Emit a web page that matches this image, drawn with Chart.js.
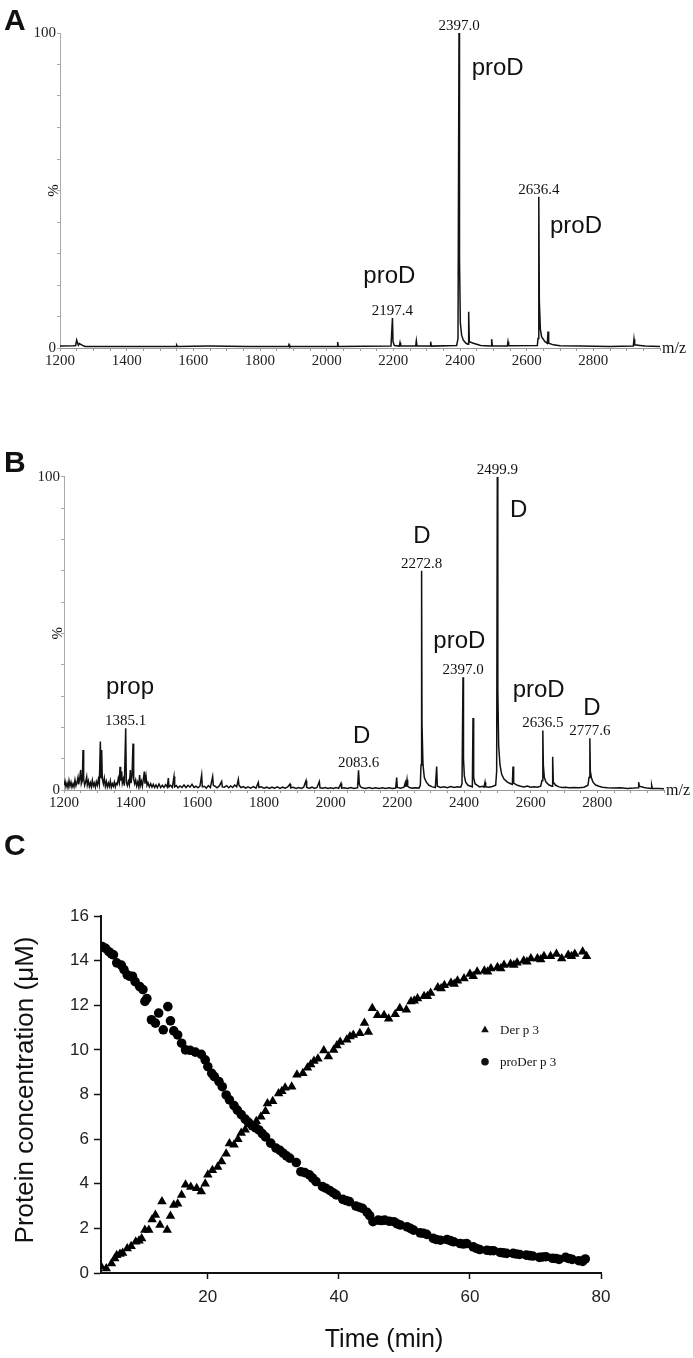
<!DOCTYPE html>
<html>
<head>
<meta charset="utf-8">
<script src="https://cdn.jsdelivr.net/npm/chart.js@4/dist/chart.umd.min.js"></script>
<style>
  body { margin: 0; background: #fff; }
  #fig { position: relative; width: 693px; height: 1358px; background: #fff; overflow: hidden; }
  canvas { position: absolute; left: 0; }
</style>
</head>
<body>
<div id="fig">
  <canvas id="chartA" width="693" height="390" style="top:0"></canvas>
  <canvas id="chartB" width="693" height="390" style="top:440px"></canvas>
  <canvas id="chartC" width="693" height="528" style="top:830px"></canvas>
</div>
<script>
// Panel A — spectrum before activation (m/z, relative intensity %)
const mzA = [1200, 1240, 1247, 1250, 1255, 1258, 1270, 1275, 1400, 1549, 1550, 1552, 1650, 1760, 1885, 1887, 1889,
  2031, 2033, 2035, 2193, 2197.4, 2199, 2203, 2218, 2220, 2222, 2267, 2269, 2271, 2310, 2312, 2314,
  2390, 2394, 2397.0, 2398.5, 2401, 2405, 2410, 2418, 2424, 2426, 2428, 2440, 2450, 2462,
  2493, 2495, 2497, 2542, 2544, 2546, 2632, 2634, 2636.4, 2638, 2641, 2645, 2655, 2662, 2664, 2666,
  2680, 2700, 2760, 2850, 2920, 2922, 2924, 2940, 2955, 3000];
const intensityA = [0.6, 0.7, 0.8, 2.5, 0.9, 1.4, 0.7, 0.5, 0.5, 0.5, 0.9, 0.5, 0.6, 0.5, 0.5, 1.1, 0.5,
  0.5, 1.9, 0.5, 0.6, 9.5, 2.0, 0.8, 0.6, 1.7, 0.6, 0.6, 2.3, 0.6, 0.6, 2.0, 0.6,
  0.8, 3.0, 100, 28, 8, 4, 2.5, 1.5, 1.2, 11.5, 2.0, 1.5, 1.2, 0.8,
  0.6, 2.8, 0.7, 0.6, 2.0, 0.7, 0.8, 3.0, 48, 15, 6, 3.5, 2.0, 1.5, 5.2, 1.5,
  1.0, 0.7, 0.6, 0.5, 0.6, 2.8, 1.0, 0.8, 0.6, 0.5];
const peaksA = [2197.4, 2397.0, 2636.4];
const peakTopsA = [9.5, 100, 48];
const namesA = ['proD', 'proD', 'proD'];
const nameMzA = [2110, 2435, 2670];
const nameIntA = [20.5, 86.7, 36.4];

// Panel B — spectrum after activation
const mzB = [1200, 1203, 1206, 1209, 1212, 1215, 1218, 1221, 1224, 1227, 1230, 1233, 1236, 1239, 1242, 1244, 1247, 1250, 1252, 1255, 1257, 1259,
  1262, 1265, 1268, 1270, 1273, 1276, 1279, 1282, 1285, 1288, 1291, 1294, 1297, 1300, 1303, 1306, 1309, 1311, 1313, 1315, 1318,
  1321, 1324, 1327, 1330, 1333, 1336, 1339, 1342, 1345, 1348, 1351, 1354, 1357, 1360, 1363, 1366, 1368, 1370, 1373, 1375, 1378,
  1381, 1385.1, 1387, 1390, 1393, 1396, 1399, 1401, 1404, 1407, 1409, 1412, 1415, 1418, 1421, 1424, 1427, 1429, 1432, 1435, 1438,
  1441, 1443, 1446, 1449, 1452, 1456, 1460, 1464, 1468, 1472, 1476, 1480, 1485, 1490, 1495, 1500, 1505, 1510, 1513, 1515, 1520,
  1525, 1530, 1532, 1537, 1542, 1548, 1554, 1560, 1566, 1572, 1578, 1584, 1590, 1596, 1602, 1608, 1613, 1615, 1621, 1627, 1633,
  1639, 1646, 1648, 1653, 1659, 1666, 1673, 1675, 1681, 1688, 1694, 1700, 1706, 1712, 1718, 1723, 1725, 1731, 1738, 1745, 1752,
  1760, 1768, 1776, 1783, 1785, 1792, 1800, 1808, 1816, 1824, 1832, 1840, 1848, 1856, 1864, 1871, 1878, 1880, 1888, 1896, 1904,
  1912, 1919, 1926, 1928, 1936, 1944, 1952, 1959, 1966, 1968, 1976, 1984, 1992, 2000, 2008, 2016, 2024, 2031, 2033, 2041, 2050,
  2060, 2070, 2079, 2081, 2083.6, 2086, 2090, 2095, 2105, 2115, 2125, 2135, 2145, 2155, 2165, 2175, 2185, 2195, 2198, 2200, 2210,
  2220, 2224, 2226, 2229, 2231, 2236, 2245, 2255, 2265, 2269, 2271, 2272.8, 2274, 2277, 2281, 2287, 2295, 2305, 2314, 2318, 2320,
  2330, 2340, 2350, 2360, 2370, 2380, 2390, 2394, 2397.0, 2398.5, 2401, 2405, 2412, 2420, 2425, 2427, 2429, 2433, 2440, 2447, 2455,
  2460, 2463, 2465, 2475, 2485, 2495, 2498, 2499.9, 2501.5, 2504, 2508, 2513, 2520, 2530, 2540, 2545, 2547, 2549, 2560, 2570, 2580,
  2590, 2600, 2610, 2620, 2630, 2634, 2636.5, 2638, 2641, 2646, 2655, 2664, 2666, 2668, 2675, 2685, 2695, 2705, 2715, 2730, 2745,
  2760, 2772, 2775, 2777.6, 2779, 2782, 2787, 2795, 2805, 2815, 2830, 2850, 2870, 2890, 2910, 2922, 2924, 2926, 2940, 2950, 2961,
  2963, 2965, 2985, 3000];
const intensityB = [1.5, 2.8, 1.0, 2.2, 0.8, 3.0, 1.2, 2.5, 0.9, 2.0, 1.0, 3.2, 1.4, 2.4, 4.0, 1.8, 3.5, 6.4, 2.0, 3.0, 12.8, 3.5,
  1.5, 2.6, 4.2, 1.6, 2.9, 1.1, 2.3, 1.0, 3.1, 1.3, 2.2, 0.9, 2.6, 1.5, 3.4, 1.8, 15.5, 4.0, 12.8, 3.5, 2.0,
  3.8, 1.2, 2.7, 1.0, 2.2, 1.1, 2.9, 0.9, 2.0, 1.2, 2.5, 1.0, 2.2, 1.8, 3.8, 2.4, 7.4, 3.0, 6.0, 2.2, 3.5,
  1.4, 19.7, 2.5, 1.4, 2.8, 1.6, 6.4, 2.2, 4.5, 14.8, 3.5, 2.0, 3.2, 1.3, 2.5, 1.1, 4.8, 1.5, 2.8, 1.2, 3.5,
  5.9, 2.0, 4.5, 1.5, 2.3, 1.0, 2.0, 0.9, 1.8, 0.8, 1.6, 0.7, 1.9, 0.8, 1.5, 0.8, 1.7, 0.9, 3.8, 1.0, 1.5,
  0.8, 4.3, 1.0, 1.4, 0.7, 1.3, 0.8, 1.6, 0.8, 1.5, 0.9, 1.8, 0.8, 1.2, 0.7, 1.3, 4.8, 1.0, 1.2, 0.6, 1.4,
  0.8, 4.3, 1.5, 1.2, 0.7, 1.3, 2.7, 1.0, 0.9, 1.4, 0.7, 1.3, 0.8, 1.6, 1.0, 3.4, 1.5, 0.8, 1.1, 0.6, 1.0,
  0.6, 1.1, 0.6, 2.4, 0.8, 1.0, 0.6, 0.9, 0.5, 0.9, 0.6, 1.0, 0.5, 0.9, 0.6, 1.0, 1.9, 0.7, 0.9, 0.5, 0.8,
  0.5, 0.9, 3.0, 0.8, 0.6, 0.9, 0.5, 0.8, 2.7, 0.7, 0.6, 0.8, 0.5, 0.7, 0.5, 0.8, 0.5, 2.1, 0.6, 0.7, 0.5,
  0.8, 0.5, 0.7, 1.5, 6.3, 1.8, 1.0, 0.7, 0.5, 0.8, 0.5, 0.7, 0.5, 0.7, 0.5, 0.7, 0.5, 0.6, 4.0, 0.8, 0.6,
  0.9, 2.4, 1.0, 3.3, 1.2, 0.8, 0.6, 0.7, 0.6, 1.5, 8.0, 70, 21, 8.0, 4.0, 2.5, 1.5, 1.0, 0.8, 7.5, 1.2,
  0.8, 1.0, 0.7, 1.1, 0.8, 1.0, 0.9, 2.0, 36, 10, 4.5, 2.5, 1.5, 1.2, 1.0, 23, 4.0, 2.0, 1.5, 1.0, 1.2,
  0.9, 2.5, 1.0, 0.9, 1.1, 1.5, 6.0, 100, 32, 14, 8.0, 5.0, 3.5, 2.5, 2.0, 1.8, 7.5, 2.2, 1.5, 1.2, 1.0,
  1.3, 0.9, 1.0, 0.9, 1.2, 3.0, 19, 8.0, 4.0, 2.5, 1.6, 1.2, 10.6, 2.5, 1.5, 1.0, 0.8, 0.9, 0.7, 0.8, 0.7,
  0.9, 1.5, 4.0, 16.5, 6.0, 4.0, 2.5, 1.6, 1.2, 0.9, 0.7, 0.6, 0.7, 0.5, 0.6, 0.7, 2.5, 1.2, 0.8, 0.6, 0.5,
  1.5, 0.5, 0.5, 0.4];
const peaksB = [1385.1, 2083.6, 2272.8, 2397.0, 2499.9, 2636.5, 2777.6];
const peakTopsB = [19.7, 6.3, 70, 36, 100, 19, 16.5];
const namesB = ['prop', 'D', 'D', 'proD', 'D', 'proD', 'D'];
const nameMzB = [1326, 2067, 2248, 2308, 2538, 2546, 2758];
const nameIntB = [30.6, 14.9, 78.7, 45.2, 87.2, 29.8, 23.9];

// Panel C — time course (min, µM)
const timeDer = [3.7, 4.5, 5.3, 5.8, 6.1, 6.6, 7.0, 7.7, 8.3, 9.0, 9.5, 9.9, 10.4, 11.0, 11.5, 12.0, 12.7, 13.0, 13.8, 14.3,
  14.8, 15.4, 16.0, 16.6, 17.4, 18.3, 19.0, 19.6, 20.0, 20.7, 21.5, 22.1, 22.8, 23.3, 24.0, 24.6, 25.1, 25.7, 26.4, 27.4,
  28.1, 28.8, 29.1, 29.9, 30.8, 31.3, 31.8, 32.8, 33.6, 34.5, 35.2, 35.7, 36.2, 36.8, 37.7, 38.4, 39.2, 39.7, 40.2, 41.2,
  41.7, 42.2, 43.2, 43.9, 44.5, 45.1, 45.9, 46.9, 47.6, 48.6, 49.3, 50.3, 51.0, 51.5, 52.0, 53.0, 53.5, 54.0, 55.1, 55.6,
  56.1, 57.1, 57.6, 58.1, 59.1, 60.0, 60.5, 61.1, 62.2, 62.7, 63.2, 64.2, 64.7, 65.2, 66.2, 66.7, 67.2, 68.2, 68.7, 69.3,
  70.3, 70.8, 71.3, 72.3, 73.2, 74.0, 75.0, 75.5, 76.0, 77.2, 77.8];
const derP3 = [0.3, 0.2, 0.43, 0.65, 0.8, 0.85, 0.9, 1.1, 1.2, 1.4, 1.45, 1.55, 1.93, 1.93, 2.4, 2.6, 2.15, 3.2, 1.93, 2.55,
  3.05, 3.1, 3.5, 3.95, 3.85, 3.8, 3.65, 4.0, 4.4, 4.6, 4.75, 5.0, 5.35, 5.8, 5.75, 6.0, 6.27, 6.42, 6.65, 6.8,
  7.0, 7.25, 7.6, 7.7, 8.05, 8.15, 8.3, 8.35, 8.88, 8.95, 9.2, 9.35, 9.5, 9.6, 9.97, 9.7, 10.0, 10.2, 10.35, 10.45,
  10.6, 10.67, 10.75, 11.2, 10.8, 11.87, 11.55, 11.55, 11.4, 11.6, 11.87, 11.8, 12.17, 12.2, 12.3, 12.4, 12.4, 12.55, 12.8, 12.75,
  12.9, 13.0, 12.95, 13.1, 13.2, 13.4, 13.3, 13.5, 13.55, 13.5, 13.65, 13.7, 13.65, 13.8, 13.85, 13.8, 13.9, 14.0, 13.95, 14.1,
  14.1, 14.05, 14.2, 14.2, 14.3, 14.1, 14.25, 14.2, 14.3, 14.4, 14.2];
const timePro = [3.9, 4.4, 4.9, 5.3, 5.6, 6.1, 6.8, 7.2, 7.7, 8.1, 8.5, 8.9, 9.6, 10.1, 10.4, 10.7, 11.4, 12.0, 12.5, 13.2,
  13.9, 14.3, 14.8, 15.4, 16.0, 16.6, 17.3, 18.1, 19.0, 19.6, 20.0, 20.6, 21.0, 21.7, 22.2, 22.8, 23.3, 24.0, 24.5, 25.1,
  25.7, 26.2, 26.8, 27.3, 27.8, 28.3, 28.8, 29.6, 30.4, 31.0, 31.5, 32.0, 32.5, 33.5, 34.2, 34.8, 35.5, 36.0, 36.5, 37.5,
  38.0, 38.6, 39.1, 39.6, 40.6, 41.1, 41.6, 42.6, 43.1, 43.6, 44.3, 44.7, 45.2, 46.0, 46.5, 47.0, 47.7, 48.4, 48.9, 49.4,
  50.4, 50.9, 51.4, 52.4, 52.9, 53.4, 54.4, 54.9, 55.5, 56.5, 57.0, 57.5, 58.5, 59.0, 59.5, 60.5, 61.0, 61.5, 62.6, 63.1,
  63.6, 64.6, 65.1, 65.6, 66.6, 67.1, 67.6, 68.6, 69.1, 69.6, 70.6, 71.1, 71.6, 72.6, 73.1, 73.6, 74.6, 75.1, 75.6, 76.6,
  77.2, 77.6];
const proDerP3 = [14.63, 14.55, 14.4, 14.3, 14.26, 13.9, 13.8, 13.6, 13.36, 13.3, 13.3, 13.06, 12.84, 12.7, 12.17, 12.3, 11.35, 11.2, 11.65, 10.9,
  11.94, 11.3, 10.85, 10.67, 10.3, 10.0, 9.98, 9.9, 9.8, 9.55, 9.25, 8.95, 8.8, 8.58, 8.35, 7.98, 7.76, 7.5, 7.3, 7.1,
  6.9, 6.75, 6.6, 6.5, 6.41, 6.25, 6.1, 5.82, 5.6, 5.5, 5.37, 5.25, 5.15, 4.95, 4.54, 4.5, 4.4, 4.25, 4.1, 3.87,
  3.8, 3.7, 3.6, 3.5, 3.3, 3.25, 3.2, 3.0, 2.95, 2.9, 2.72, 2.57, 2.3, 2.37, 2.35, 2.37, 2.32, 2.3, 2.2, 2.15,
  2.07, 2.0, 1.92, 1.8, 1.78, 1.73, 1.55, 1.5, 1.47, 1.5, 1.45, 1.4, 1.32, 1.3, 1.32, 1.17, 1.1, 1.05, 1.02, 1.0,
  1.0, 0.92, 0.9, 0.88, 0.88, 0.85, 0.83, 0.8, 0.78, 0.76, 0.7, 0.72, 0.73, 0.66, 0.65, 0.61, 0.7, 0.65, 0.61, 0.55,
  0.52, 0.63];
const seriesNames = ['Der p 3', 'proDer p 3'];

const SERIF = '"Liberation Serif", "Times New Roman", serif';
const SANS = '"Liberation Sans", Arial, sans-serif';

// peak numbers, species names, axis captions and panel letter for the spectra
const spectrumText = {
  id: 'spectrumText',
  afterDraw(chart, args, o) {
    const { ctx, chartArea: a, scales: { x, y } } = chart;
    ctx.save();
    ctx.fillStyle = '#111';
    ctx.textBaseline = 'alphabetic';
    ctx.textAlign = 'center';
    ctx.font = '15px ' + SERIF;
    o.peaks.forEach((m, i) => ctx.fillText(m.toFixed(1), x.getPixelForValue(m), y.getPixelForValue(o.tops[i]) - 3));
    ctx.textAlign = 'left';
    ctx.font = '24px ' + SANS;
    o.names.forEach((n, i) => ctx.fillText(n, x.getPixelForValue(o.nameX[i]), y.getPixelForValue(o.nameY[i])));
    ctx.font = '16px ' + SERIF;
    ctx.fillText('m/z', a.right + 2, a.bottom + 5);
    ctx.font = 'bold 30px ' + SANS;
    ctx.fillText(o.panel, 4, o.panelY);
    ctx.translate(a.left - 2, (a.top + a.bottom) / 2);
    ctx.rotate(-Math.PI / 2);
    ctx.textAlign = 'center';
    ctx.font = '15px ' + SERIF;
    ctx.fillText('%', 0, 0);
    ctx.restore();
  }
};

function spectrumChart(id, mz, inten, ann, box) {
  return new Chart(document.getElementById(id), {
    type: 'line',
    data: {
      datasets: [{
        data: mz.map((m, i) => ({ x: m, y: inten[i] })),
        borderColor: '#111', borderWidth: 1.5, pointRadius: 0, tension: 0, fill: false
      }]
    },
    options: {
      responsive: false, animation: false, devicePixelRatio: 1,
      layout: { padding: { top: box.top, right: box.right, left: 0, bottom: 0 } },
      plugins: { legend: { display: false }, tooltip: { enabled: false }, spectrumText: ann },
      scales: {
        x: {
          type: 'linear', min: 1200, max: 3000,
          afterFit: s => { s.height = box.xh; },
          ticks: {
            stepSize: 50, autoSkip: false, maxRotation: 0, padding: 1, color: '#222',
            font: { family: SERIF, size: 15 },
            callback: v => (v % 200 === 0 && v <= 2800) ? v : ''
          },
          grid: { drawOnChartArea: false, tickLength: 3, color: '#999' },
          border: { color: '#999' }
        },
        y: {
          min: 0, max: 100,
          afterFit: s => { s.width = box.left; },
          ticks: {
            stepSize: 10, autoSkip: false, padding: 1, color: '#222',
            font: { family: SERIF, size: 15 },
            callback: v => (v === 0 || v === 100) ? v : ''
          },
          grid: { drawOnChartArea: false, tickLength: 3, color: '#aaa' },
          border: { color: '#aaa' }
        }
      }
    },
    plugins: [spectrumText]
  });
}

spectrumChart('chartA', mzA, intensityA,
  { peaks: peaksA, tops: peakTopsA, names: namesA, nameX: nameMzA, nameY: nameIntA, panel: 'A', panelY: 30 },
  { top: 33, right: 33, left: 60, xh: 42 });

spectrumChart('chartB', mzB, intensityB,
  { peaks: peaksB, tops: peakTopsB, names: namesB, nameX: nameMzB, nameY: nameIntB, panel: 'B', panelY: 32 },
  { top: 36.7, right: 29, left: 64, xh: 40 });

// titles, legend and panel letter for the time course
const kineticsText = {
  id: 'kineticsText',
  afterDraw(chart) {
    const { ctx } = chart;
    ctx.save();
    ctx.fillStyle = '#111';
    ctx.textBaseline = 'alphabetic';
    ctx.font = 'bold 30px ' + SANS;
    ctx.fillText('C', 4, 25);
    ctx.textAlign = 'center';
    ctx.font = '25px ' + SANS;
    ctx.fillText('Time (min)', 384, 517);

    // legend
    ctx.beginPath();
    ctx.moveTo(485, 195.5);
    ctx.lineTo(488.8, 202.2);
    ctx.lineTo(481.2, 202.2);
    ctx.closePath();
    ctx.fill();
    ctx.beginPath();
    ctx.arc(485, 231.7, 3.8, 0, Math.PI * 2);
    ctx.fill();
    ctx.textAlign = 'left';
    ctx.font = '13px ' + SERIF;
    ctx.fillText(seriesNames[0], 500, 204);
    ctx.fillText(seriesNames[1], 500, 235.7);

    ctx.translate(33, 260);
    ctx.rotate(-Math.PI / 2);
    ctx.textAlign = 'center';
    ctx.font = '26px ' + SANS;
    ctx.fillText('Protein concentration (\u03BCM)', 0, 0);
    ctx.restore();
  }
};

new Chart(document.getElementById('chartC'), {
  type: 'scatter',
  data: {
    datasets: [
      {
        label: seriesNames[0],
        data: timeDer.map((t, i) => ({ x: t, y: derP3[i] })),
        pointStyle: 'triangle', pointRadius: 5.5, borderWidth: 0,
        backgroundColor: '#000', borderColor: '#000'
      },
      {
        label: seriesNames[1],
        data: timePro.map((t, i) => ({ x: t, y: proDerP3[i] })),
        pointStyle: 'circle', pointRadius: 4.8, borderWidth: 0,
        backgroundColor: '#000', borderColor: '#000'
      }
    ]
  },
  options: {
    responsive: false, animation: false, devicePixelRatio: 1,
    layout: { padding: { top: 86, right: 92, left: 0, bottom: 0 } },
    plugins: { legend: { display: false }, tooltip: { enabled: false } },
    scales: {
      x: {
        type: 'linear', min: 3.7, max: 80,
        afterFit: s => { s.height = 85; },
        ticks: { stepSize: 20, includeBounds: false, maxRotation: 0, padding: 8, color: '#222', font: { family: SANS, size: 17 } },
        grid: { drawOnChartArea: false, tickLength: 6, color: '#111', tickWidth: 1.5 },
        border: { color: '#111', width: 2 }
      },
      y: {
        min: 0, max: 16,
        afterFit: s => { s.width = 101; },
        ticks: { stepSize: 2, padding: 5, color: '#222', font: { family: SANS, size: 17 } },
        grid: { drawOnChartArea: false, tickLength: 7, color: '#111', tickWidth: 1.5 },
        border: { color: '#111', width: 2 }
      }
    }
  },
  plugins: [kineticsText]
});
</script>
</body>
</html>
